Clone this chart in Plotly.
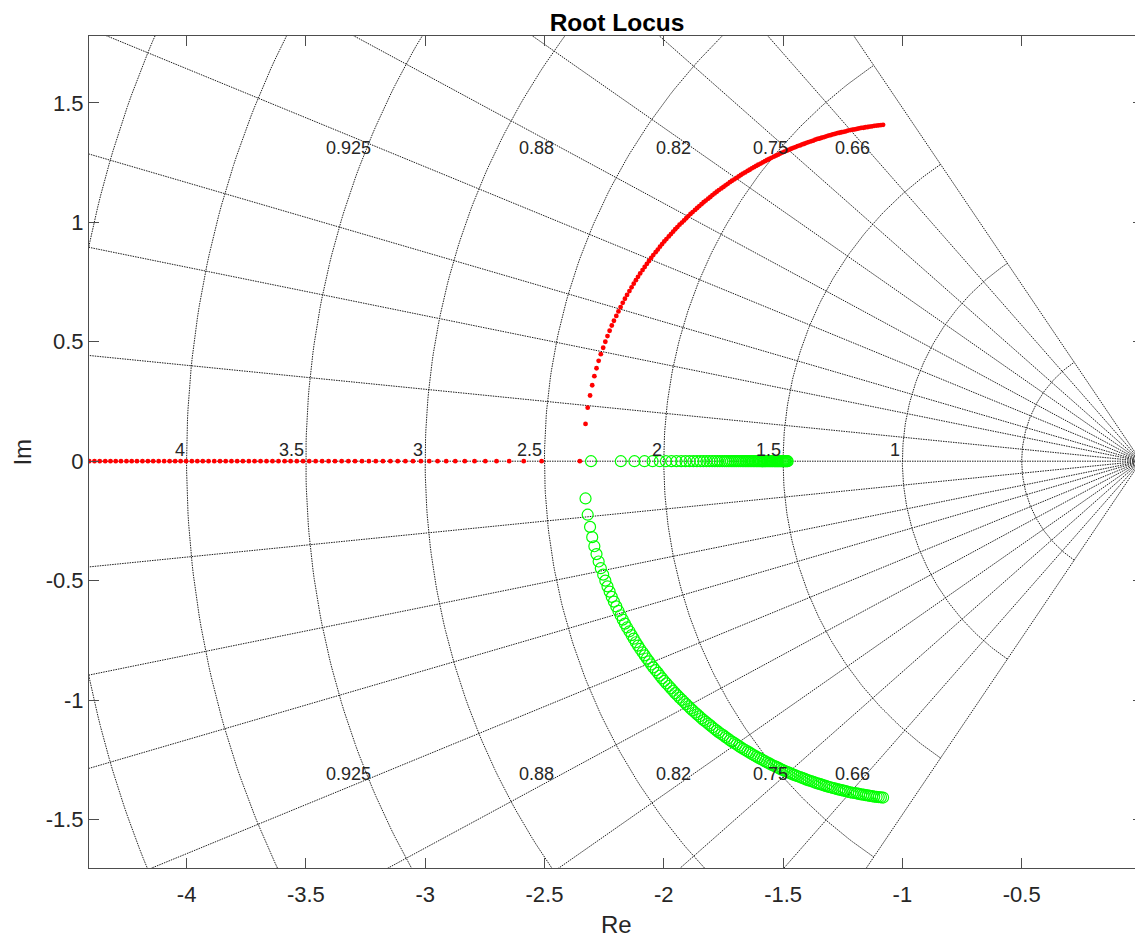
import numpy as np
import plotly.graph_objects as go

# ---------------- data ----------------
# red branch on the real axis (Re values, Im = 0)
red_real = [-4.430, -4.408, -4.386, -4.364, -4.341, -4.319, -4.297, -4.275, -4.252, -4.230, -4.208, -4.185,
            -4.162, -4.140, -4.117, -4.094, -4.071, -4.048, -4.025, -4.002, -3.978, -3.955, -3.932, -3.908,
            -3.884, -3.860, -3.836, -3.812, -3.788, -3.764, -3.739, -3.715, -3.690, -3.665, -3.640, -3.615,
            -3.589, -3.564, -3.538, -3.512, -3.486, -3.459, -3.432, -3.405, -3.378, -3.350, -3.322, -3.294,
            -3.265, -3.236, -3.207, -3.177, -3.146, -3.115, -3.083, -3.051, -3.018, -2.983, -2.948, -2.912,
            -2.874, -2.834, -2.793, -2.748, -2.701, -2.648, -2.587, -2.512, -2.352]

# green branch on the real axis (Re values, Im = 0)
green_real = [-1.481, -1.484, -1.488, -1.491, -1.495, -1.499, -1.502, -1.506, -1.510, -1.514, -1.518, -1.522,
              -1.526, -1.530, -1.534, -1.538, -1.543, -1.547, -1.552, -1.556, -1.561, -1.566, -1.571, -1.576,
              -1.581, -1.586, -1.591, -1.597, -1.602, -1.608, -1.613, -1.619, -1.625, -1.631, -1.638, -1.644,
              -1.651, -1.657, -1.664, -1.671, -1.679, -1.686, -1.694, -1.702, -1.710, -1.718, -1.727, -1.736,
              -1.745, -1.755, -1.765, -1.775, -1.786, -1.797, -1.809, -1.821, -1.834, -1.847, -1.861, -1.876,
              -1.892, -1.909, -1.927, -1.947, -1.968, -1.991, -2.017, -2.047, -2.081, -2.123, -2.180, -2.305]

# complex-conjugate part of the locus (red: upper half, green: lower half)
complex_re = [-2.328, -2.319, -2.309, -2.300, -2.291, -2.282, -2.273, -2.264, -2.254, -2.245, -2.236, -2.227,
              -2.218, -2.209, -2.199, -2.190, -2.181, -2.172, -2.163, -2.154, -2.144, -2.135, -2.126, -2.117,
              -2.108, -2.099, -2.089, -2.080, -2.071, -2.062, -2.053, -2.044, -2.034, -2.025, -2.016, -2.007,
              -1.998, -1.989, -1.979, -1.970, -1.961, -1.952, -1.943, -1.934, -1.924, -1.915, -1.906, -1.897,
              -1.888, -1.879, -1.869, -1.860, -1.851, -1.842, -1.833, -1.824, -1.814, -1.805, -1.796, -1.787,
              -1.778, -1.769, -1.759, -1.750, -1.741, -1.732, -1.723, -1.714, -1.704, -1.695, -1.686, -1.677,
              -1.668, -1.659, -1.649, -1.640, -1.631, -1.622, -1.613, -1.604, -1.594, -1.585, -1.576, -1.567,
              -1.558, -1.549, -1.539, -1.530, -1.521, -1.512, -1.503, -1.494, -1.484, -1.475, -1.466, -1.457,
              -1.448, -1.439, -1.429, -1.420, -1.411, -1.402, -1.393, -1.383, -1.374, -1.365, -1.356, -1.347,
              -1.338, -1.328, -1.319, -1.310, -1.301, -1.292, -1.283, -1.273, -1.264, -1.255, -1.246, -1.237,
              -1.228, -1.218, -1.209, -1.200, -1.191, -1.182, -1.173, -1.163, -1.154, -1.145, -1.136, -1.127,
              -1.118, -1.108, -1.099, -1.090, -1.081]
upper_im = [0.156, 0.224, 0.275, 0.318, 0.356, 0.389, 0.420, 0.448, 0.475, 0.500, 0.524, 0.546,
            0.568, 0.588, 0.608, 0.627, 0.645, 0.663, 0.680, 0.696, 0.712, 0.728, 0.743, 0.758,
            0.772, 0.786, 0.800, 0.813, 0.826, 0.838, 0.851, 0.863, 0.875, 0.886, 0.898, 0.909,
            0.920, 0.930, 0.941, 0.951, 0.961, 0.971, 0.980, 0.990, 0.999, 1.008, 1.017, 1.026,
            1.035, 1.043, 1.052, 1.060, 1.068, 1.076, 1.084, 1.091, 1.099, 1.106, 1.114, 1.121,
            1.128, 1.135, 1.142, 1.148, 1.155, 1.161, 1.168, 1.174, 1.180, 1.186, 1.192, 1.198,
            1.204, 1.209, 1.215, 1.220, 1.226, 1.231, 1.236, 1.241, 1.246, 1.251, 1.256, 1.261,
            1.265, 1.270, 1.275, 1.279, 1.283, 1.288, 1.292, 1.296, 1.300, 1.304, 1.308, 1.312,
            1.315, 1.319, 1.322, 1.326, 1.329, 1.333, 1.336, 1.339, 1.342, 1.346, 1.349, 1.351,
            1.354, 1.357, 1.360, 1.363, 1.365, 1.368, 1.370, 1.373, 1.375, 1.377, 1.379, 1.381,
            1.384, 1.386, 1.388, 1.389, 1.391, 1.393, 1.395, 1.396, 1.398, 1.399, 1.401, 1.402,
            1.404, 1.405, 1.406, 1.407, 1.408]
lower_im = [-v for v in upper_im]

# s-plane grid specification
damping = [0.995, 0.98, 0.96, 0.925, 0.88, 0.82, 0.75, 0.66, 0.56]
damping_labels = [0.925, 0.88, 0.82, 0.75, 0.66]
natural_freq = [0.5, 1, 1.5, 2, 2.5, 3, 3.5, 4, 4.5]
freq_labels = [1, 1.5, 2, 2.5, 3, 3.5, 4]

x_ticks = [-4, -3.5, -3, -2.5, -2, -1.5, -1, -0.5, 0]
y_ticks = [-1.5, -1, -0.5, 0, 0.5, 1, 1.5]

# ---------------- figure ----------------
FONT = "Liberation Sans, Arial, Helvetica, sans-serif"
TXT = "#262626"
GRID = "#1e1e1e"

fig = go.Figure()

# damping-ratio rays + real axis ray
gx, gy = [], []
R = 7.0
gx += [0, -R, None]
gy += [0, 0, None]
for z in damping:
    s = float(np.sqrt(1 - z * z))
    for sign in (1, -1):
        gx += [0, -R * z, None]
        gy += [0, sign * R * s, None]
# natural-frequency arcs, spanning the damping rays
th_max = float(np.arccos(min(damping)))
ang = np.linspace(-th_max, th_max, 181)
for w in natural_freq:
    gx += list(-w * np.cos(ang)) + [None]
    gy += list(w * np.sin(ang)) + [None]

fig.add_trace(go.Scatter(x=gx, y=gy, mode="lines", hoverinfo="skip",
                         line=dict(color=GRID, width=1, dash="1.5px,1px"), showlegend=False))

# locus: red dots
fig.add_trace(go.Scatter(x=red_real + complex_re, y=[0] * len(red_real) + upper_im,
                         mode="markers", marker=dict(color="#ff0000", size=4.8, line=dict(width=0)),
                         showlegend=False))
# locus: green circles
fig.add_trace(go.Scatter(x=green_real + complex_re, y=[0] * len(green_real) + lower_im,
                         mode="markers",
                         marker=dict(symbol="circle-open", color="#00ff00", size=11, line=dict(width=1.2)),
                         showlegend=False))

# grid labels
for w in freq_labels:
    fig.add_annotation(x=-w, y=0, text=f"{w:g}", showarrow=False, xanchor="right", yanchor="bottom",
                       yshift=-1, font=dict(family=FONT, size=18, color=TXT))
LAB_IM = 1.31      # label row height
LAB_REF = 1.36     # height at which the ray position is taken for centring
for z in damping_labels:
    s = float(np.sqrt(1 - z * z))
    for sign in (1, -1):
        fig.add_annotation(x=-LAB_REF * z / s, y=sign * LAB_IM, text=f"{z:g}", showarrow=False,
                           xanchor="center", yanchor="middle", xshift=-3,
                           font=dict(family=FONT, size=18, color=TXT))

# axis titles
fig.add_annotation(x=0.5, y=-0.0685, xref="paper", yref="paper", text="Re", showarrow=False,
                   xanchor="center", yanchor="middle", font=dict(family=FONT, size=24, color=TXT))
fig.add_annotation(x=-0.064, y=0.5, xref="paper", yref="paper", text="Im", showarrow=False, textangle=-90,
                   xanchor="center", yanchor="middle", font=dict(family=FONT, size=24, color=TXT))

axis_common = dict(showgrid=False, zeroline=False, showline=True, linecolor="#4d4d4d", linewidth=1,
                   mirror="ticks", ticks="inside", ticklen=10, tickwidth=1, tickcolor="#4d4d4d",
                   automargin=False, ticklabeloverflow="allow",
                   tickfont=dict(family=FONT, size=22, color=TXT))

# page body has an 8px margin: figure is sized/offset so the plot box lands at x 89.5-1143, y 36-868
fig.update_layout(
    width=1135, height=932,
    margin=dict(l=81, r=0, t=28, b=72),
    paper_bgcolor="white", plot_bgcolor="white",
    title=dict(text="<b>Root Locus</b>", x=609 / 1135, xanchor="center", y=1 - 14 / 932, yanchor="middle",
               font=dict(family=FONT, size=24.5, color="#000000"), automargin=False),
    xaxis=dict(range=[-4.409, 0.0084], tickvals=x_ticks, ticktext=[f"{v:g}" for v in x_ticks],
               ticklabelstandoff=7, **axis_common),
    yaxis=dict(range=[-1.703, 1.780], tickvals=y_ticks, ticktext=[f"{v:g}" for v in y_ticks],
               ticklabelstandoff=0, **axis_common),
    showlegend=False,
)

fig.write_html("out.html")
